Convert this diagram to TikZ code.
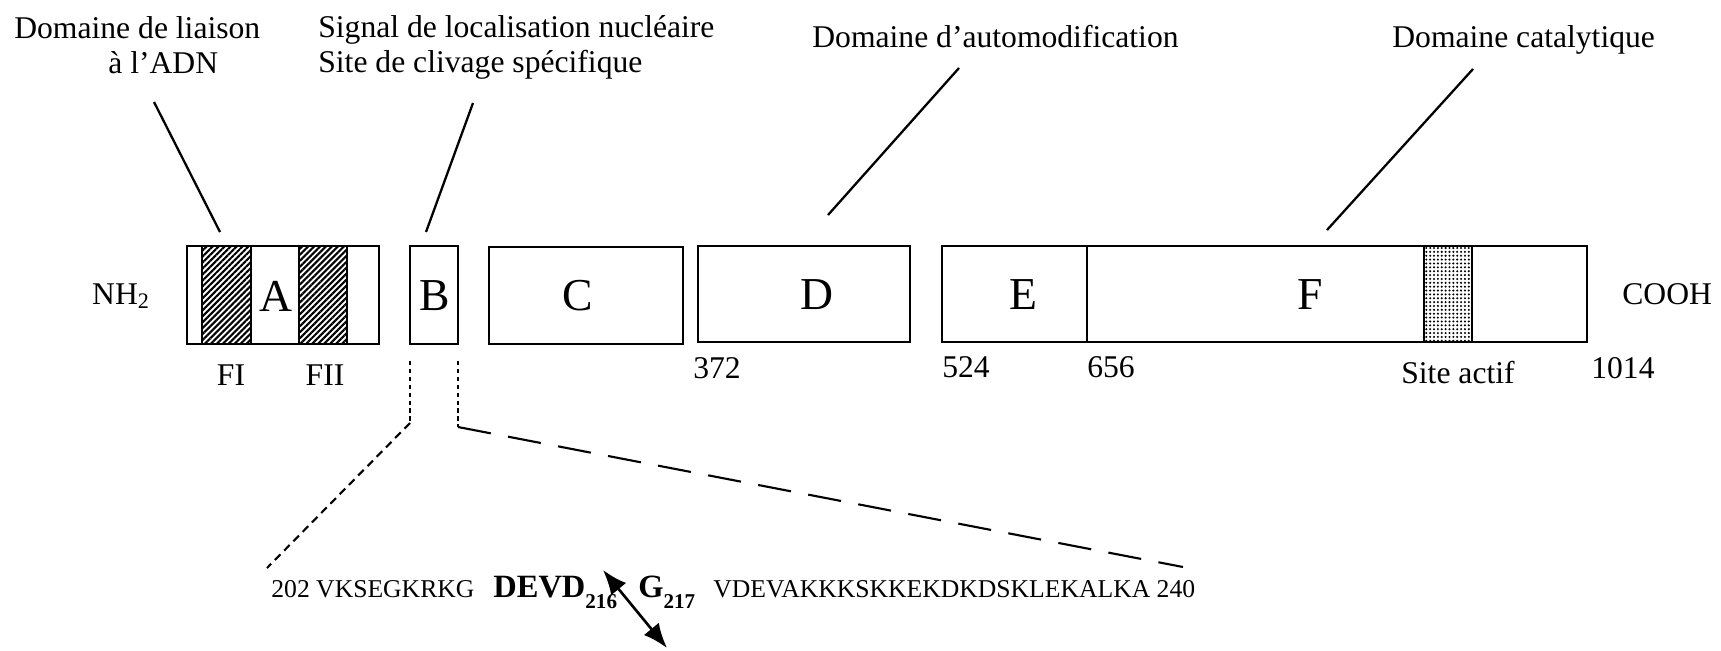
\documentclass[tikz,border=0pt]{standalone}
\usepackage{fontspec}
\setmainfont{Liberation Serif}
\usepackage{tikz}
\usetikzlibrary{%
  arrows.meta,%
  patterns.meta%
}
\tikzset{>=latex}
\tikzset{
  lbl/.style={inner sep=0pt, anchor=base west, font=\fontsize{18}{20}\selectfont},
  dom/.style={inner sep=0pt, font=\fontsize{26}{28}\selectfont},
  seq/.style={inner sep=0pt, anchor=base west, font=\fontsize{14.6}{17}\selectfont},
  aa/.style={seq, font=\fontsize{18.5}{20}\selectfont\bfseries},
  box/.style={line width=1.2pt},
  lead/.style={line width=1.3pt},
  hatch/.style={box, pattern={Lines[angle=45,distance=2.4pt,line width=1.2pt]}},
  stipple/.style={box, pattern={Dots[distance=2.2pt,radius=0.65pt]}}
}
\newcommand{\resno}[1]{\raisebox{-6.5pt}{\fontsize{12}{13}\selectfont #1}}

\begin{document}
\begin{tikzpicture}[x=0.02cm,y=-0.02cm]
    \useasboundingbox (0,0) rectangle (1721,650);
    % labels on top
    \node[lbl] (adn1) at (14,38) {Domaine de liaison};
    \node[lbl] (adn2) at (108,73) {à l’ADN};
    \node[lbl] (nls) at (318,37) {Signal de localisation nucléaire};
    \node[lbl] (clv) at (318,72) {Site de clivage spécifique};
    \node[lbl] (auto) at (812,47) {Domaine d’automodification};
    \node[lbl] (cat) at (1392,47) {Domaine catalytique};
    % leader lines
    \coordinate (l1a) at (154,102); \coordinate (l1b) at (220,232);
    \coordinate (l2a) at (473,103); \coordinate (l2b) at (426,232);
    \coordinate (l3a) at (959,68);  \coordinate (l3b) at (828,215);
    \coordinate (l4a) at (1473,69); \coordinate (l4b) at (1327,230);
    \draw[lead] (l1a) -- (l1b);
    \draw[lead] (l2a) -- (l2b);
    \draw[lead] (l3a) -- (l3b);
    \draw[lead] (l4a) -- (l4b);
    % domains
    \draw[hatch] (202,246) rectangle (251,344);
    \draw[hatch] (299,246) rectangle (347,344);
    \draw[box] (187,246) rectangle (379,344);
    \draw[box] (410,246) rectangle (458,344);
    \draw[box] (489,247) rectangle (683,344);
    \draw[box] (698,246) rectangle (910,342);
    \draw[stipple] (1424,246) rectangle (1472,342);
    \draw[box] (942,246) rectangle (1587,342);
    \draw[box] (1087,246) -- (1087,342);
    \node[dom] (A) at (276,296) {A};
    \node[dom] (B) at (435,296) {B};
    \node[dom] (C) at (578,296) {C};
    \node[dom] (D) at (817,295) {D};
    \node[dom] (E) at (1023,295) {E};
    \node[dom] (F) at (1310,295) {F};
    % ends and positions
    \node[lbl,anchor=base] (nh) at (121,304) {NH\textsubscript{2}};
    \node[lbl] (cooh) at (1622,304) {COOH};
    \node[lbl,anchor=base] (f1) at (231,385) {FI};
    \node[lbl,anchor=base] (f2) at (325,385) {FII};
    \node[lbl] (n372) at (693,378) {372};
    \node[lbl] (n524) at (942,377) {524};
    \node[lbl] (n656) at (1087,377) {656};
    \node[lbl] (act) at (1401,383) {Site actif};
    \node[lbl] (n1014) at (1591,378) {1014};
    % zoom on B
    \coordinate (bl1) at (410,361); \coordinate (bl2) at (410,423);
    \coordinate (bl3) at (267,568);
    \coordinate (br1) at (458,361); \coordinate (br2) at (458,427);
    \coordinate (br3) at (1183,567);
    \draw[box,dash pattern=on 2.5pt off 2pt] (bl1) -- (bl2);
    \draw[box,dash pattern=on 4.5pt off 3pt] (bl2) -- (bl3);
    \draw[box,dash pattern=on 2.5pt off 2pt] (br1) -- (br2);
    \draw[box,dash pattern=on 19pt off 10pt] (br2) -- (br3);
    % sequence
    \node[seq] (s1) at (271,597) {202 VKSEGKRKG};
    \node[aa] (devd) at (493,597) {DEVD\resno{216}};
    \node[aa] (gly) at (638,597) {G\resno{217}};
    \node[seq] (s2) at (713,597) {VDEVAKKKSKKEKDKDSKLEKALKA 240};
    \coordinate (cut1) at (603,570); \coordinate (cut2) at (667,648);
    \draw[{Latex[length=14pt,width=11pt]}-{Latex[length=14pt,width=11pt]},line width=1.5pt]
    (cut1) -- (cut2);
  \end{tikzpicture}
\end{document}
